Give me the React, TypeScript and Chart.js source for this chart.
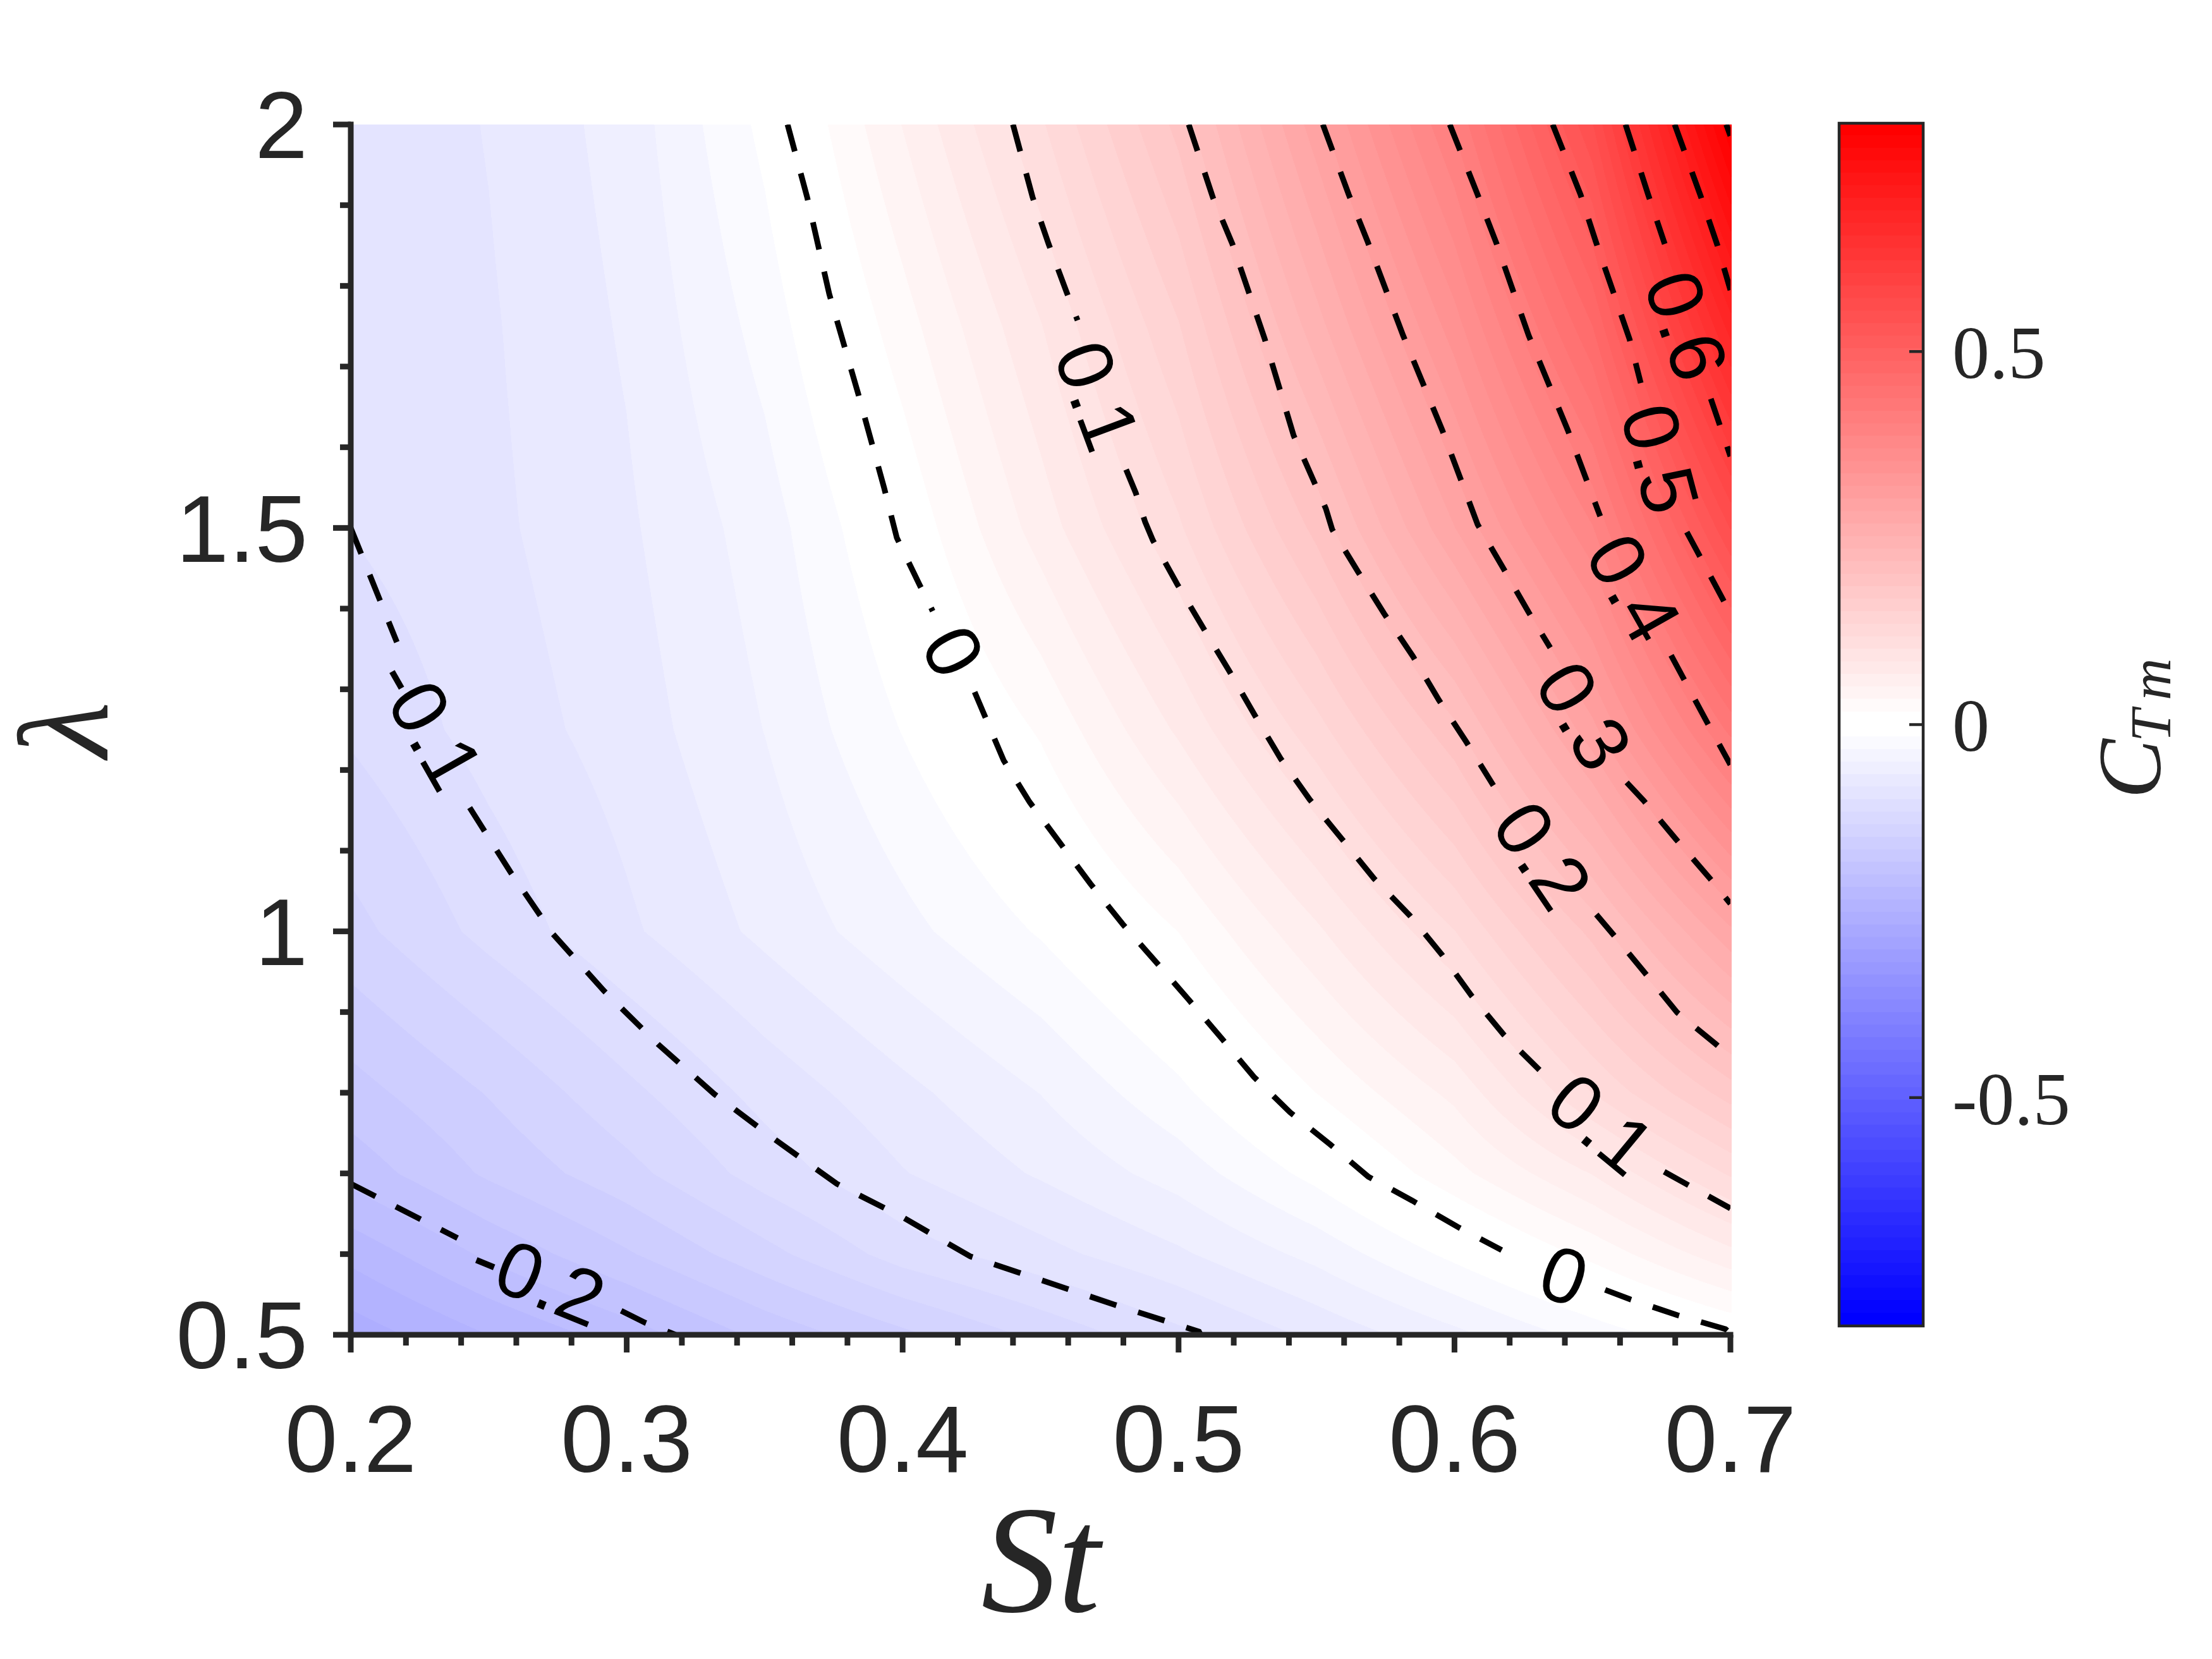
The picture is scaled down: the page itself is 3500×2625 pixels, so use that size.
import React, { useEffect, useRef } from "react";
import { Chart, registerables } from "chart.js";

Chart.register(...registerables);

// ---- field samples: C_Tm on the (St, lambda) grid ----
const stGrid = [0.2, 0.25, 0.3, 0.35, 0.4, 0.45, 0.5, 0.55, 0.6, 0.65, 0.7];
const lambdaGrid = [0.5, 0.6, 0.7, 0.8, 1.0, 1.25, 1.5, 1.75, 2.0];
const ctLambda050 = [-0.262, -0.235, -0.21, -0.18, -0.155, -0.13, -0.105, -0.08, -0.055, -0.027, 0.0];
const ctLambda060 = [-0.23, -0.198, -0.17, -0.14, -0.11, -0.09, -0.07, -0.045, -0.012, 0.022, 0.062];
const ctLambda070 = [-0.195, -0.165, -0.14, -0.11, -0.085, -0.065, -0.043, -0.011, 0.028, 0.068, 0.12];
const ctLambda080 = [-0.175, -0.15, -0.122, -0.095, -0.072, -0.05, -0.021, 0.017, 0.055, 0.118, 0.176];
const ctLambda100 = [-0.14, -0.112, -0.087, -0.063, -0.039, -0.015, 0.017, 0.064, 0.117, 0.19, 0.282];
const ctLambda125 = [-0.115, -0.094, -0.076, -0.05, -0.016, 0.019, 0.07, 0.128, 0.197, 0.297, 0.425];
const ctLambda150 = [-0.1, -0.088, -0.07, -0.042, 0.003, 0.058, 0.115, 0.19, 0.285, 0.385, 0.555];
const ctLambda175 = [-0.1, -0.086, -0.065, -0.027, 0.026, 0.083, 0.15, 0.245, 0.345, 0.47, 0.68];
const ctLambda200 = [-0.098, -0.083, -0.06, -0.012, 0.051, 0.115, 0.19, 0.295, 0.405, 0.553, 0.805];
const ctRows = [ctLambda050, ctLambda060, ctLambda070, ctLambda080, ctLambda100, ctLambda125, ctLambda150, ctLambda175, ctLambda200];

// ---- contour polylines [St, lambda]; null marks the gap left for a label ----
type P = [number, number] | null;
const contourM02: P[] = [[0.2, 0.6872], [0.2243, 0.6449], [0.2387, 0.6199], null, [0.298, 0.5298], [0.3067, 0.5149], [0.3177, 0.5]];
const contourM01: P[] = [[0.2, 1.5], [0.2167, 1.3585], null, [0.2431, 1.1533], [0.2579, 1.0734], [0.2733, 0.9966], [0.2918, 0.9261], [0.3113, 0.8603], [0.3317, 0.7985], [0.3537, 0.7421], [0.3761, 0.6872], [0.4004, 0.6449], [0.4245, 0.5972], [0.4506, 0.5674], [0.4765, 0.5376], [0.5074, 0.5039], [0.508, 0.5]];
const contour00: P[] = [[0.3583, 2], [0.3654, 1.9099], [0.3734, 1.7901], [0.3839, 1.6663], [0.3933, 1.5496], [0.3979, 1.4877], [0.4061, 1.4298], [0.4109, 1.3969], null, [0.4261, 1.2966], [0.4366, 1.212], [0.446, 1.1603], [0.468, 1.0593], [0.4797, 1.0092], [0.492, 0.9614], [0.5037, 0.9152], [0.5156, 0.8674], [0.5273, 0.8196], [0.5404, 0.7758], [0.555, 0.7358], [0.5688, 0.6959], [0.5848, 0.6661], [0.601, 0.634], [0.6171, 0.605], null, [0.6546, 0.5557], [0.6636, 0.544], [0.6808, 0.5243], [0.6982, 0.5071], [0.7, 0.5016]];
const contour01: P[] = [[0.44, 2], [0.4471, 1.9099], [0.4529, 1.852], [0.4595, 1.7916], [0.4634, 1.7572], null, [0.481, 1.5723], [0.4845, 1.5434], [0.4879, 1.5073], [0.4907, 1.4846], [0.4996, 1.4298], [0.509, 1.3757], [0.5184, 1.3225], [0.5278, 1.2669], [0.5371, 1.2136], [0.5475, 1.1635], [0.5591, 1.1149], [0.5708, 1.0656], [0.5839, 1.0193], [0.5955, 0.9708], [0.6061, 0.9206], [0.6178, 0.8721], [0.6308, 0.8282], null, [0.676, 0.7021], [0.6842, 0.6865], [0.7, 0.6567]];
const contour02: P[] = [[0.5037, 2], [0.5124, 1.9099], [0.5195, 1.852], [0.5312, 1.7345], [0.5417, 1.6146], [0.5534, 1.5238], [0.5557, 1.4979], [0.5651, 1.4454], [0.5745, 1.3938], [0.585, 1.3405], [0.5944, 1.2864], [0.6043, 1.2347], [0.6141, 1.1807], null, [0.6514, 1.0209], [0.6576, 0.9958], [0.6691, 0.9481], [0.6807, 0.8995], [0.6947, 0.8603], [0.7, 0.8447]];
const contour03: P[] = [[0.5523, 2], [0.5617, 1.913], [0.5685, 1.8551], [0.5814, 1.7384], [0.5956, 1.6209], [0.6084, 1.5042], [0.6178, 1.4494], [0.6269, 1.3953], [0.6347, 1.3515], null, [0.6624, 1.1846], [0.6686, 1.1619], [0.6803, 1.1141], [0.6924, 1.0663], [0.7, 1.0342]];
const contour04: P[] = [[0.5983, 2], [0.6084, 1.913], [0.6153, 1.852], [0.6269, 1.7384], [0.6411, 1.6209], [0.6528, 1.5144], null, [0.6785, 1.3421], [0.6913, 1.2606], [0.7, 1.2065]];
const contour05: P[] = [[0.6356, 2], [0.6457, 1.913], [0.6512, 1.8551], [0.6634, 1.7345], [0.6675, 1.6796], null, [0.6842, 1.4948], [0.697, 1.4133], [0.7, 1.3937]];
const contour06: P[] = [[0.662, 2], [0.6702, 1.913], [0.6762, 1.852], null, [0.6929, 1.6601], [0.7, 1.5888]];
const contour07: P[] = [[0.6798, 2], [0.6892, 1.9115], [0.6952, 1.8512], [0.7, 1.7948]];
const contour08: P[] = [[0.6985, 2], [0.7, 1.986]];
const contours = [contourM02, contourM01, contour00, contour01, contour02, contour03, contour04, contour05, contour06, contour07, contour08];

// ---- inline contour labels ----
const labelTexts = ["-0.1", "-0.2", "0", "0", "0.1", "0.1", "0.2", "0.3", "0.4", "0.5", "0.6"];
const labelSt = [0.2275, 0.2675, 0.4174, 0.6393, 0.4695, 0.6525, 0.631, 0.646, 0.664, 0.6735, 0.683];
const labelLambda = [1.2551, 0.5666, 1.3452, 0.5697, 1.6624, 0.7585, 1.0922, 1.2653, 1.4235, 1.5849, 1.7494];
const labelAngles = [60.4, 22, 62, 20, 69.6, 39.6, 55.8, 59, 60.5, 75, 71];

// ---- axes ----
const stMajorTicks = [0.2, 0.3, 0.4, 0.5, 0.6, 0.7];
const stMinorTicks = [0.22, 0.24, 0.26, 0.28, 0.32, 0.34, 0.36, 0.38, 0.42, 0.44, 0.46, 0.48, 0.52, 0.54, 0.56, 0.58, 0.62, 0.64, 0.66, 0.68];
const lambdaMajorTicks = [0.5, 1, 1.5, 2];
const lambdaMinorTicks = [0.6, 0.7, 0.8, 0.9, 1.1, 1.2, 1.3, 1.4, 1.6, 1.7, 1.8, 1.9];
const colorbarTicks = [-0.5, 0, 0.5];
const colorLimit = 0.806;
const colorLevelCount = 96;

const INK = "#262626";
const SANS = "'Liberation Sans', Arial, sans-serif";
const SERIF = "'Liberation Serif', 'Times New Roman', serif";

function levelIndex(v: number) {
  const i = Math.floor(((v + colorLimit) / (2 * colorLimit)) * colorLevelCount);
  return Math.max(0, Math.min(colorLevelCount - 1, i));
}
function levelCentre(i: number) {
  return -colorLimit + ((i + 0.5) * 2 * colorLimit) / colorLevelCount;
}
function levelRGB(i: number): [number, number, number] {
  const c = levelCentre(i);
  const half = colorLimit / colorLevelCount;
  const t = Math.max(0, Math.abs(c) - half) / (colorLimit - 2 * half);
  const k = Math.round(255 * (1 - Math.min(1, t)));
  return c < 0 ? [k, k, 255] : [255, k, k];
}
function sampleField(st: number, la: number) {
  const s = Math.max(stGrid[0], Math.min(stGrid[stGrid.length - 1], st));
  const l = Math.max(lambdaGrid[0], Math.min(lambdaGrid[lambdaGrid.length - 1], la));
  let i = 0;
  while (i < stGrid.length - 2 && s > stGrid[i + 1]) i++;
  let j = 0;
  while (j < lambdaGrid.length - 2 && l > lambdaGrid[j + 1]) j++;
  const u = (s - stGrid[i]) / (stGrid[i + 1] - stGrid[i]);
  const w = (l - lambdaGrid[j]) / (lambdaGrid[j + 1] - lambdaGrid[j]);
  const a = ctRows[j][i] * (1 - u) + ctRows[j][i + 1] * u;
  const b = ctRows[j + 1][i] * (1 - u) + ctRows[j + 1][i + 1] * u;
  return a * (1 - w) + b * w;
}

const fieldPlugin = {
  id: "field",
  beforeDatasetsDraw(chart: any) {
    const { ctx, chartArea: a, scales } = chart;
    const x0 = Math.round(a.left);
    const y0 = Math.round(a.top);
    const w = Math.round(a.right) + 2 - x0;
    const h = Math.round(a.bottom) - y0;
    const img = ctx.createImageData(w, h);
    const palette = [];
    for (let i = 0; i < colorLevelCount; i++) palette.push(levelRGB(i));
    const sts = [];
    for (let px = 0; px < w; px++) sts.push(scales.x.getValueForPixel(x0 + px + 0.5));
    for (let py = 0; py < h; py++) {
      const la = scales.y.getValueForPixel(y0 + py + 0.5);
      for (let px = 0; px < w; px++) {
        const rgb = palette[levelIndex(sampleField(sts[px], la))];
        const o = (py * w + px) * 4;
        img.data[o] = rgb[0];
        img.data[o + 1] = rgb[1];
        img.data[o + 2] = rgb[2];
        img.data[o + 3] = 255;
      }
    }
    ctx.putImageData(img, x0, y0);
  },
};

const axesPlugin = {
  id: "axesAndLabels",
  afterDatasetsDraw(chart: any) {
    const { ctx, chartArea: a, scales } = chart;
    // inline labels
    ctx.save();
    ctx.fillStyle = "#000";
    ctx.font = `124px ${SANS}`;
    ctx.textAlign = "center";
    ctx.textBaseline = "middle";
    labelTexts.forEach((t, i) => {
      ctx.save();
      ctx.translate(scales.x.getPixelForValue(labelSt[i]), scales.y.getPixelForValue(labelLambda[i]));
      ctx.rotate((labelAngles[i] * Math.PI) / 180);
      ctx.fillText(t, 0, 4);
      ctx.restore();
    });
    ctx.restore();
    // axis lines and ticks
    ctx.save();
    ctx.strokeStyle = INK;
    ctx.lineWidth = 9;
    ctx.lineCap = "butt";
    const seg = (x1: number, y1: number, x2: number, y2: number) => {
      ctx.beginPath();
      ctx.moveTo(x1, y1);
      ctx.lineTo(x2, y2);
      ctx.stroke();
    };
    seg(a.left, a.top - 4.5, a.left, a.bottom + 4.5);
    seg(a.left - 4.5, a.bottom, a.right + 4.5, a.bottom);
    stMajorTicks.forEach((v) => {
      const p = scales.x.getPixelForValue(v);
      seg(p, a.bottom, p, a.bottom + 28);
    });
    stMinorTicks.forEach((v) => {
      const p = scales.x.getPixelForValue(v);
      seg(p, a.bottom, p, a.bottom + 17);
    });
    lambdaMajorTicks.forEach((v) => {
      const p = scales.y.getPixelForValue(v);
      seg(a.left, p, a.left - 28, p);
    });
    lambdaMinorTicks.forEach((v) => {
      const p = scales.y.getPixelForValue(v);
      seg(a.left, p, a.left - 17, p);
    });
    ctx.restore();
  },
};

const colorbarPlugin = {
  id: "colorbarFrame",
  afterDatasetsDraw(chart: any) {
    const { ctx, chartArea: a, scales } = chart;
    ctx.save();
    ctx.strokeStyle = INK;
    ctx.lineWidth = 4.5;
    ctx.strokeRect(a.left, a.top, a.right - a.left, a.bottom - a.top);
    colorbarTicks.forEach((v) => {
      const p = scales.y.getPixelForValue(v);
      ctx.beginPath();
      ctx.moveTo(a.right, p);
      ctx.lineTo(a.right - 22, p);
      ctx.stroke();
    });
    // rotated colour-bar title C_Tm
    ctx.fillStyle = INK;
    ctx.textAlign = "left";
    ctx.textBaseline = "alphabetic";
    const put = (t: string, size: number, baseX: number, startY: number) => {
      ctx.save();
      ctx.translate(baseX, startY);
      ctx.rotate(-Math.PI / 2);
      ctx.font = `italic ${size}px ${SERIF}`;
      ctx.fillText(t, 0, 0);
      ctx.restore();
    };
    put("C", 142, 3418, 1264);
    put("T", 92, 3434, 1174);
    put("m", 92, 3434, 1108);
    ctx.restore();
  },
};

export default function App() {
  const mainRef = useRef<HTMLCanvasElement | null>(null);
  const barRef = useRef<HTMLCanvasElement | null>(null);

  useEffect(() => {
    const main = new Chart(mainRef.current as any, {
      type: "scatter",
      data: {
        datasets: contours.map((pts) => ({
          data: pts.map((p) => (p ? { x: p[0], y: p[1] } : { x: null, y: null })) as any,
          showLine: true,
          spanGaps: false,
          borderColor: "#000",
          borderWidth: 9,
          borderDash: [44, 36],
          borderCapStyle: "butt" as const,
          pointRadius: 0,
          tension: 0,
        })),
      },
      options: {
        responsive: false,
        animation: false,
        devicePixelRatio: 1,
        layout: { padding: { left: 0, top: 197, right: 762, bottom: 0 } },
        plugins: { legend: { display: false }, tooltip: { enabled: false } },
        scales: {
          x: {
            type: "linear",
            min: 0.2,
            max: 0.7,
            grid: { display: false },
            border: { display: false },
            afterBuildTicks: (s: any) => {
              s.ticks = stMajorTicks.map((value) => ({ value }));
            },
            afterFit: (s: any) => {
              s.height = 513;
            },
            ticks: {
              padding: 78,
              autoSkip: false,
              maxRotation: 0,
              minRotation: 0,
              color: INK,
              font: { family: SANS, size: 150 },
              callback: (v: any) => String(v),
            },
            title: {
              display: true,
              text: "St",
              color: INK,
              padding: { top: 0, bottom: 6 },
              font: { family: SERIF, size: 242, style: "italic", lineHeight: 1.1 },
            },
          },
          y: {
            type: "linear",
            min: 0.5,
            max: 2,
            grid: { display: false },
            border: { display: false },
            afterBuildTicks: (s: any) => {
              s.ticks = lambdaMajorTicks.map((value) => ({ value }));
            },
            afterFit: (s: any) => {
              s.width = 555;
            },
            ticks: {
              padding: 60,
              labelOffset: 12,
              autoSkip: false,
              color: INK,
              font: { family: SANS, size: 150 },
              callback: (v: any) => String(v),
            },
            title: {
              display: true,
              text: "λ",
              color: INK,
              padding: { top: 14, bottom: 0 },
              font: { family: SERIF, size: 204, style: "italic", lineHeight: 1 },
            },
          },
        },
      } as any,
      plugins: [fieldPlugin, axesPlugin],
    });

    const levels = [];
    for (let i = 0; i < colorLevelCount; i++) levels.push(i);
    const bar = new Chart(barRef.current as any, {
      type: "bar",
      data: {
        labels: ["CTm"],
        datasets: levels.map((i) => {
          const half = colorLimit / colorLevelCount;
          const c = levelCentre(i);
          const rgb = levelRGB(i);
          return {
            data: [[c - half, c + half]] as any,
            backgroundColor: `rgb(${rgb[0]},${rgb[1]},${rgb[2]})`,
            barPercentage: 1,
            categoryPercentage: 1,
            grouped: false,
            inflateAmount: 1,
          };
        }),
      },
      options: {
        responsive: false,
        animation: false,
        devicePixelRatio: 1,
        layout: { padding: { left: 2910, top: 195, right: 0, bottom: 527 } },
        plugins: { legend: { display: false }, tooltip: { enabled: false } },
        scales: {
          x: { display: false },
          y: {
            type: "linear",
            position: "right",
            min: -colorLimit,
            max: colorLimit,
            grid: { display: false },
            border: { display: false },
            afterBuildTicks: (s: any) => {
              s.ticks = colorbarTicks.map((value) => ({ value }));
            },
            afterFit: (s: any) => {
              s.width = 457;
            },
            ticks: {
              padding: 38,
              labelOffset: 11,
              autoSkip: false,
              color: INK,
              font: { family: SERIF, size: 118 },
              callback: (v: any) => String(v),
            },
          },
        },
      } as any,
      plugins: [colorbarPlugin],
    });

    return () => {
      main.destroy();
      bar.destroy();
    };
  }, []);

  const canvasStyle: React.CSSProperties = { position: "absolute", left: 0, top: 0, display: "block" };
  return (
    <div style={{ position: "absolute", left: 0, top: 0, width: 3500, height: 2625, background: "#fff", overflow: "hidden" }}>
      <canvas ref={mainRef} width={3500} height={2625} style={canvasStyle} />
      <canvas ref={barRef} width={3500} height={2625} style={canvasStyle} />
    </div>
  );
}
